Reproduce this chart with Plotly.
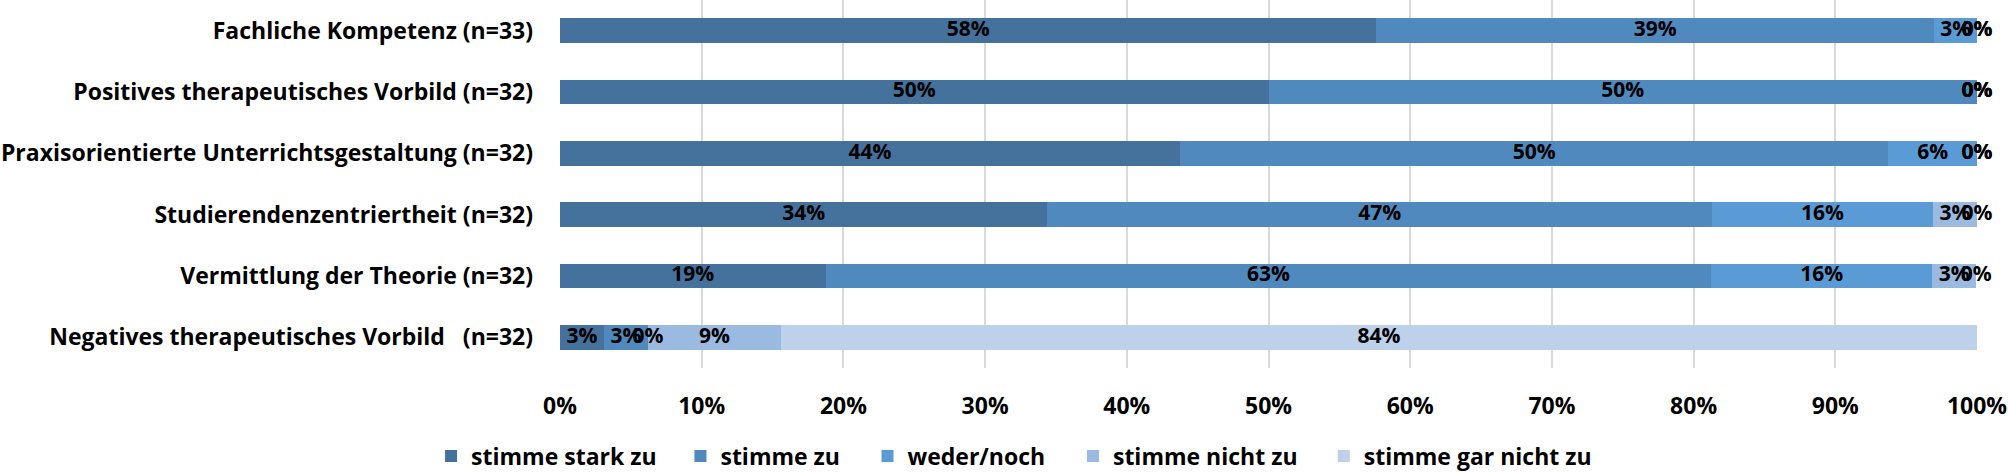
import math
import plotly.graph_objects as go

categories = [
    "Fachliche Kompetenz (n=33)",
    "Positives therapeutisches Vorbild (n=32)",
    "Praxisorientierte Unterrichtsgestaltung (n=32)",
    "Studierendenzentriertheit (n=32)",
    "Vermittlung der Theorie (n=32)",
    "Negatives therapeutisches Vorbild\u00a0\u00a0 (n=32)",
]

series_names = ["stimme stark zu", "stimme zu", "weder/noch", "stimme nicht zu", "stimme gar nicht zu"]

stimme_stark_zu = [57.6, 50.0, 43.75, 34.4, 18.75, 3.1]
stimme_zu = [39.4, 50.0, 50.0, 46.9, 62.5, 3.1]
weder_noch = [3.0, 0.0, 6.25, 15.6, 15.6, 0.0]
stimme_nicht_zu = [0.0, 0.0, 0.0, 3.1, 3.1, 9.4]
stimme_gar_nicht_zu = [0.0, 0.0, 0.0, 0.0, 0.0, 84.4]

tick_values = [0, 10, 20, 30, 40, 50, 60, 70, 80, 90, 100]
tick_labels = ["0%", "10%", "20%", "30%", "40%", "50%", "60%", "70%", "80%", "90%", "100%"]

colors = ["#44729D", "#4F89BE", "#5B9BD5", "#9BBAE0", "#BDD1EA"]

# horizontal position of each legend entry (paper coordinates)
legend_x = [-0.091, 0.085, 0.217, 0.362, 0.539]

FONT = "'Open Sans', sans-serif"

all_series = [stimme_stark_zu, stimme_zu, weder_noch, stimme_nicht_zu, stimme_gar_nicht_zu]

fig = go.Figure()
legend_ids = ["legend", "legend2", "legend3", "legend4", "legend5"]
for name, vals, col, lid in zip(series_names, all_series, colors, legend_ids):
    fig.add_trace(go.Bar(
        y=categories, x=vals, name=name, orientation="h",
        marker=dict(color=col, line=dict(width=0)),
        hoverinfo="x+y+name", legend=lid,
    ))

# data labels centred in each segment
cum = [0.0] * len(categories)
for name, vals in zip(series_names, all_series):
    xs = [c + v / 2 for c, v in zip(cum, vals)]
    txt = [f"{math.floor(v + 0.5)}%" for v in vals]
    fig.add_trace(go.Scatter(
        y=categories, x=xs, mode="text", text=txt,
        textposition="middle center",
        textfont=dict(family=FONT, size=21, color="#000000", weight="bold"),
        showlegend=False, hoverinfo="skip", cliponaxis=False,
    ))
    cum = [c + v for c, v in zip(cum, vals)]

legend_common = dict(
    orientation="h", xanchor="left", y=-0.239, yanchor="middle",
    font=dict(family=FONT, size=23, color="#000000", weight="bold"),
    bgcolor="rgba(0,0,0,0)", borderwidth=0,
)
layout_legends = {}
for lid, lx in zip(legend_ids, legend_x):
    layout_legends[lid] = dict(legend_common, x=lx)

fig.update_layout(
    width=2008, height=472,
    barmode="stack", bargap=0.6,
    margin=dict(l=560, r=31, t=0, b=104, pad=0, autoexpand=False),
    paper_bgcolor="white", plot_bgcolor="white",
    font=dict(family=FONT, size=22, color="#000000", weight="bold"),
    showlegend=True,
    **layout_legends,
)
fig.update_xaxes(
    range=[0, 100], tickvals=tick_values, ticktext=tick_labels,
    showgrid=True, gridcolor="#D9D9D9", gridwidth=2,
    zeroline=False, showline=False, ticks="", ticklabelstandoff=22,
    tickfont=dict(family=FONT, size=23, color="#000000", weight="bold"),
    fixedrange=True,
)
fig.update_yaxes(
    autorange="reversed", showgrid=False, zeroline=False, showline=False,
    ticks="", ticklabelstandoff=26,
    tickfont=dict(family=FONT, size=23, color="#000000", weight="bold"),
    fixedrange=True,
)

fig.write_html(
    "out.html",
    config={"displayModeBar": False},
    post_script="document.body.style.margin='0';document.body.style.overflow='hidden';",
)
